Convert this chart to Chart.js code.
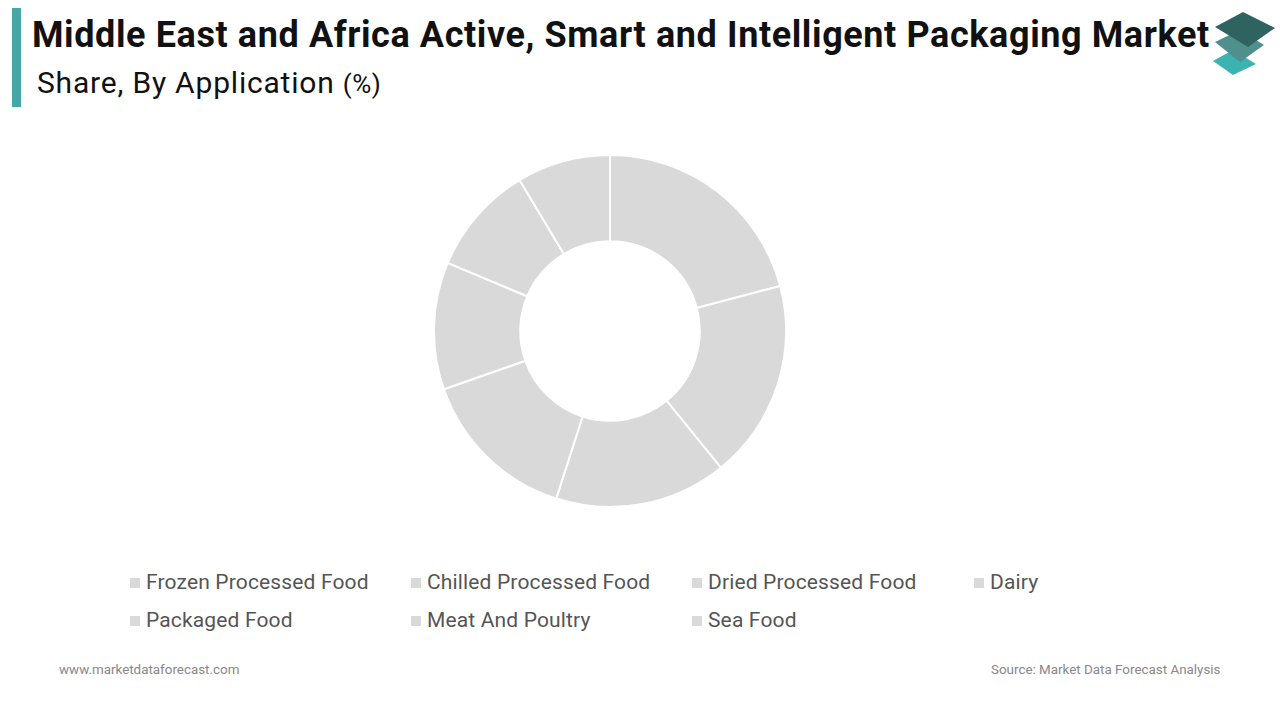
<!DOCTYPE html>
<html>
<head>
<meta charset="utf-8">
<script src="https://cdn.jsdelivr.net/npm/chart.js@4.4.1/dist/chart.umd.min.js"></script>
<style>
  html, body { margin:0; padding:0; background:#fff; }
  body { width:1280px; height:720px; position:relative; overflow:hidden; font-family: Roboto, "Noto Sans", sans-serif; }
  #bar { position:absolute; left:12px; top:8px; width:9px; height:99px; background:#46a8a6; }
  #title { position:absolute; left:32px; top:14px; font-size:36px; font-weight:700; color:#111; white-space:nowrap; letter-spacing:0.6px; }
  #subtitle { position:absolute; left:37px; top:65px; font-size:30px; color:#111; white-space:nowrap; letter-spacing:0.8px; }
  #subtitle span { font-size:26px; letter-spacing:0.5px; }
  #chartBox { position:absolute; left:433px; top:154px; width:354px; height:354px; }
  #legend { position:absolute; left:130px; top:568px; width:1100px; }
  .item { position:absolute; font-size:21px; color:#555; white-space:nowrap; line-height:28px; letter-spacing:0.15px; }
  .item i { display:inline-block; width:10px; height:10px; background:#d9d9d9; margin-right:6px; vertical-align:1px; }
  #foot1 { position:absolute; left:59px; top:662px; font-size:13.4px; color:#888; }
  #foot2 { position:absolute; left:991px; top:662px; font-size:13.4px; color:#888; }
  #logo { position:absolute; left:1200px; top:0px; }
</style>
</head>
<body>
<div id="bar"></div>
<div id="title">Middle East and Africa Active, Smart and Intelligent Packaging Market</div>
<div id="subtitle">Share, By Application <span>(%)</span></div>
<svg id="logo" width="80" height="80" viewBox="0 0 80 80">
  <polygon points="13,61 33,50 56,64 33,75" fill="#3bb3b0"/>
  <polygon points="15,42 40,30 64,45 40,62" fill="#4f8f8c"/>
  <polygon points="15,27 43,12 75,28 48,47" fill="#2f6360"/>
</svg>
<div id="chartBox"><canvas id="c"></canvas></div>
<div id="legend"></div>
<div id="foot1">www.marketdataforecast.com</div>
<div id="foot2">Source: Market Data Forecast Analysis</div>
<script>
const categories = ["Frozen Processed Food","Chilled Processed Food","Dried Processed Food","Dairy","Packaged Food","Meat And Poultry","Sea Food"];
const shares = [20.9, 18.3, 15.8, 14.7, 11.7, 10.1, 8.6];
const sliceColor = "#d9d9d9";

new Chart(document.getElementById('c'), {
  type: 'doughnut',
  data: {
    labels: categories,
    datasets: [{
      data: shares,
      backgroundColor: categories.map(() => sliceColor),
      borderColor: '#ffffff',
      borderWidth: 2
    }]
  },
  options: {
    responsive: true,
    maintainAspectRatio: false,
    animation: false,
    cutout: '51%',
    layout: { padding: 0 },
    plugins: { legend: { display: false }, tooltip: { enabled: false } }
  }
});

const legend = document.getElementById('legend');
const colX = [0, 281, 562, 844];
const rowY = [0, 38];
categories.forEach((name, i) => {
  const d = document.createElement('div');
  d.className = 'item';
  d.style.left = colX[i % 4] + 'px';
  d.style.top = rowY[Math.floor(i / 4)] + 'px';
  d.innerHTML = '<i></i>' + name;
  legend.appendChild(d);
});
</script>
</body>
</html>
